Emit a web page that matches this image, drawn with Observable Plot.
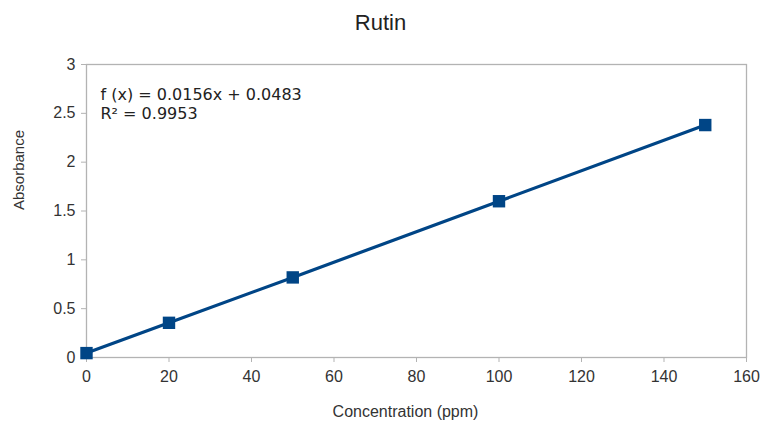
<!DOCTYPE html>
<html>
<head>
<meta charset="utf-8">
<script src="https://cdn.jsdelivr.net/npm/d3@7"></script>
<script src="https://cdn.jsdelivr.net/npm/@observablehq/plot@0.6"></script>
<style>
  html, body { margin: 0; padding: 0; background: #fff; }
  body { width: 761px; height: 423px; overflow: hidden; font-family: "Liberation Sans", Arial, sans-serif; }
  #title { height: 40px; line-height: 46px; text-align: center; font-size: 22px; color: #222; box-sizing: border-box; }
</style>
</head>
<body>
<div id="title">Rutin</div>
<div id="chart"></div>
<script>
const concentration = [0, 20, 50, 100, 150];
const absorbance = [0.045, 0.355, 0.82, 1.60, 2.38];
const xTicks = [0, 20, 40, 60, 80, 100, 120, 140, 160];
const yTicks = [0, 0.5, 1, 1.5, 2, 2.5, 3];
const xLabel = "Concentration (ppm)";
const yLabel = "Absorbance";
const equationLines = ["f (x) = 0.0156x + 0.0483", "R² = 0.9953"];

const data = concentration.map((c, i) => ({c, a: absorbance[i]}));
const color = "#004586";

const chart = Plot.plot({
  width: 761,
  height: 383,
  marginTop: 24,
  marginBottom: 66,
  marginLeft: 86,
  marginRight: 15,
  style: {fontFamily: "Liberation Sans, Arial, sans-serif", fontSize: "16px", color: "#333", background: "#fff", overflow: "visible"},
  x: {domain: [0, 160], ticks: xTicks},
  y: {domain: [0, 3], ticks: yTicks},
  marks: [
    Plot.frame({stroke: "#b3b3b3", strokeWidth: 1.3}),
    Plot.axisX({ticks: xTicks, tickSize: 5, tickPadding: 8, stroke: "#b3b3b3", fill: "#333", fontSize: 16, label: null}),
    Plot.axisY({ticks: yTicks, tickSize: 5, tickPadding: 6, stroke: "#b3b3b3", fill: "#333", fontSize: 16,
      tickFormat: d => String(d), label: null}),
    Plot.text([xLabel], {frameAnchor: "bottom", dx: -11, dy: 59, text: d => d, fontSize: 16, fill: "#333"}),
    Plot.text([yLabel], {frameAnchor: "left", dx: -67, dy: -1, rotate: -90, text: d => d, fontSize: 15, fill: "#333"}),
    Plot.line(data, {x: "c", y: "a", stroke: color, strokeWidth: 3.2}),
    Plot.dot(data, {x: "c", y: "a", symbol: "square", r: 7, fill: color, stroke: "none"}),
    Plot.text([equationLines.join("\n")], {frameAnchor: "top-left", dx: 14, dy: 22, lineAnchor: "top",
      text: d => d, fontSize: 16, fontFamily: "DejaVu Sans", fill: "#222", lineHeight: 1.2, textAnchor: "start"})
  ]
});
document.getElementById("chart").appendChild(chart);
</script>
</body>
</html>
